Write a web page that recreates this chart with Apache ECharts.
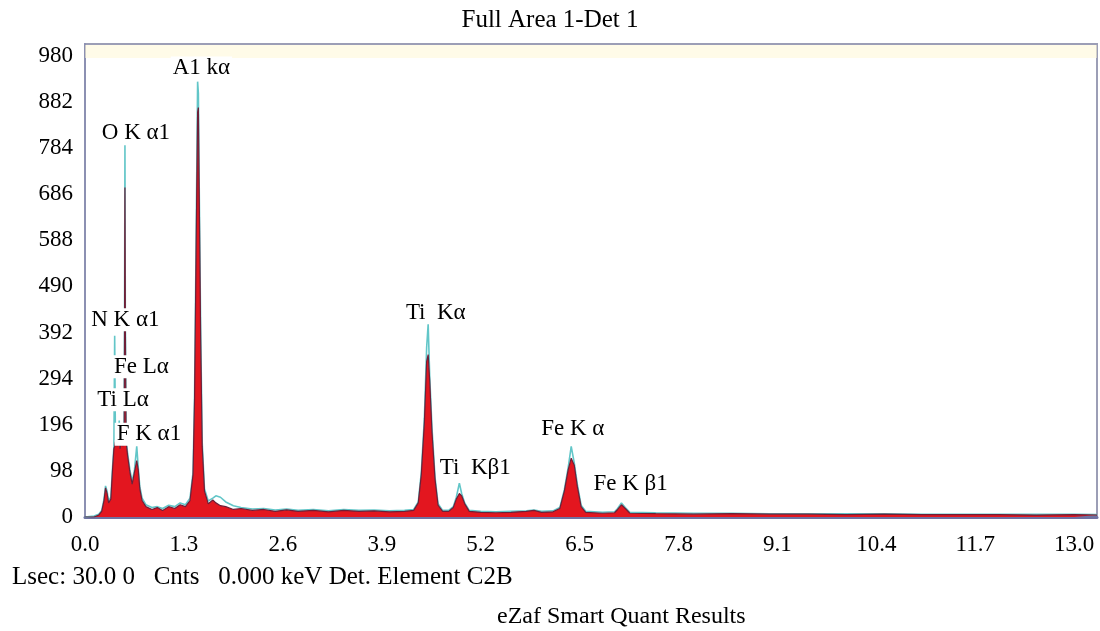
<!DOCTYPE html>
<html>
<head>
<meta charset="utf-8">
<title>Full Area 1-Det 1</title>
<script src="https://cdn.jsdelivr.net/npm/echarts@6/dist/echarts.min.js"></script>
<style>
  html, body { margin: 0; padding: 0; background: #fff; }
  #chart { width: 1100px; height: 631px; }
</style>
</head>
<body>
<div id="chart"></div>
<script>
// energy axis in keV, counts
var energy = [
  0.00, 0.12, 0.18, 0.22, 0.25, 0.27, 0.29, 0.31, 0.34, 0.36,
  0.38, 0.39, 0.40, 0.42, 0.44, 0.45, 0.46, 0.48, 0.50, 0.515,
  0.52, 0.525, 0.53, 0.54, 0.56, 0.59, 0.62, 0.65, 0.68, 0.70,
  0.72, 0.75, 0.80, 0.88, 0.95, 1.02, 1.10, 1.18, 1.25, 1.32,
  1.38, 1.42, 1.44, 1.46, 1.48, 1.49, 1.50, 1.52, 1.54, 1.57,
  1.62, 1.68, 1.72, 1.78, 1.85, 1.95, 2.05, 2.20, 2.35, 2.50,
  2.65, 2.80, 3.00, 3.20, 3.40, 3.60, 3.80, 4.00, 4.20, 4.32,
  4.38, 4.42, 4.46, 4.49, 4.51, 4.53, 4.56, 4.60, 4.64, 4.70,
  4.78, 4.84, 4.88, 4.92, 4.95, 4.99, 5.05, 5.20, 5.40, 5.60,
  5.80, 5.90, 6.00, 6.15, 6.24, 6.30, 6.35, 6.39, 6.43, 6.47,
  6.52, 6.58, 6.80, 6.96, 7.00, 7.05, 7.10, 7.16, 7.50, 8.00,
  8.50, 9.00, 9.50, 10.0, 10.5, 11.0, 11.5, 12.0, 12.5, 13.0,
  13.3
];
// red filled spectrum
var counts = [
  0, 0, 4, 12, 35, 62, 50, 30, 38, 95,
  145, 150, 160, 150, 165, 170, 145, 160, 150, 175,
  420, 700, 420, 160, 130, 95, 70, 95, 120, 100,
  60, 35, 22, 16, 20, 14, 22, 18, 26, 22,
  35, 90, 250, 560, 860, 870, 700, 380, 150, 55,
  28, 36, 30, 24, 22, 16, 18, 14, 16, 12,
  15, 12, 14, 11, 14, 12, 13, 11, 12, 14,
  30, 90, 200, 330, 345, 290, 180, 80, 25, 12,
  12, 20, 38, 50, 45, 28, 12, 10, 9, 10,
  12, 14, 10, 11, 18, 55, 100, 125, 110, 65,
  22, 10, 8, 9, 16, 26, 18, 8, 7, 6,
  7, 6, 6, 5, 6, 5, 5, 5, 4, 5,
  4
];
// cyan overlay trace
var overlay = [
  0, 2, 6, 14, 38, 66, 55, 34, 42, 100,
  150, 385, 165, 155, 170, 205, 150, 165, 155, 180,
  430, 790, 430, 165, 135, 100, 75, 100, 150, 105,
  65, 40, 26, 20, 22, 18, 25, 22, 30, 26,
  40, 95, 260, 580, 925, 900, 720, 400, 160, 60,
  34, 40, 45, 42, 32, 24, 20, 17, 18, 15,
  17, 14, 16, 13, 16, 14, 15, 13, 14, 16,
  32, 95, 210, 360, 410, 300, 190, 85, 28, 14,
  14, 22, 42, 72, 50, 30, 14, 12, 11, 12,
  13, 15, 12, 13, 20, 58, 105, 150, 115, 70,
  25, 12, 10, 11, 18, 30, 20, 10, 9, 8,
  8, 7, 7, 7, 7, 6, 6, 6, 6, 6,
  5
];
var yTicks = [0, 98, 196, 294, 392, 490, 588, 686, 784, 882, 980];
var xTicks = [0.0, 1.3, 2.6, 3.9, 5.2, 6.5, 7.8, 9.1, 10.4, 11.7, 13.0];

// peak labels: text, keV, counts (centre of the label)
var peakNames = ["A1 k\u03b1", "O K \u03b11", "N K \u03b11", "Fe L\u03b1", "Ti L\u03b1",
  "F K \u03b11", "Ti  K\u03b1", "Ti  K\u03b21", "Fe K \u03b1", "Fe K \u03b21"];
var peakX = [1.53, 0.67, 0.53, 0.74, 0.50, 0.84, 4.61, 5.13, 6.41, 7.17];
var peakY = [954, 816, 419, 319, 249, 176, 434, 104, 187, 70];

var serif = "Liberation Serif";

function zip(a, b) {
  var out = [], i;
  for (i = 0; i < a.length; i++) {
    out.push([a[i], b[i]]);
  }
  return out;
}

var labelData = (function() {
  var res = [], i;
  for (i = 0; i < peakNames.length; i++) {
    res.push([peakX[i], peakY[i], peakNames[i]]);
  }
  return res;
})();

var myChart = echarts.init(document.getElementById("chart"));

var options = {
  animation: false,
  backgroundColor: "#ffffff",
  title: {
    text: "Full Area 1-Det 1",
    left: "center",
    top: 3,
    textStyle: { fontFamily: serif, fontSize: 25, fontWeight: "normal", color: "#000" }
  },
  graphic: [
    {
      type: "text", left: 12, top: 565,
      style: { text: "Lsec: 30.0 0   Cnts   0.000 keV Det. Element C2B", fontFamily: serif, fontSize: 25, fill: "#000" }
    },
    {
      type: "text", left: 497, top: 605,
      style: { text: "eZaf Smart Quant Results", fontFamily: serif, fontSize: 24, fill: "#000" }
    }
  ],
  grid: {
    left: 85, right: 3, top: 44, bottom: 114,
    show: true,
    borderColor: "#9c9eb6",
    borderWidth: 2
  },
  xAxis: {
    type: "value",
    min: 0,
    max: 13.3,
    interval: 1.3,
    axisLine: { show: true, onZero: false, lineStyle: { color: "#6e72a2", width: 3 } },
    axisTick: { show: false },
    splitLine: { show: false },
    axisLabel: {
      showMaxLabel: false,
      margin: 16,
      fontFamily: serif,
      fontSize: 23,
      color: "#000",
      formatter: function(v) {
        return xTicks.indexOf(Math.round(v * 10) / 10) >= 0 ? v.toFixed(1) : "";
      }
    }
  },
  yAxis: {
    type: "value",
    min: 0,
    max: 1005,
    interval: 98,
    axisLine: { show: true, lineStyle: { color: "#8c90b2", width: 2 } },
    axisTick: { show: false },
    splitLine: { show: false },
    axisLabel: {
      showMaxLabel: false,
      margin: 12,
      fontFamily: serif,
      fontSize: 23,
      color: "#000",
      formatter: function(v) {
        return yTicks.indexOf(v) >= 0 ? String(v) : "";
      }
    }
  },
  series: [
    {
      name: "overlay",
      type: "line",
      data: zip(energy, overlay),
      showSymbol: false,
      symbol: "none",
      z: 2,
      lineStyle: { color: "#62c6c8", width: 1.6 },
      markArea: {
        silent: true,
        itemStyle: { color: "rgba(255,248,214,0.55)" },
        data: [[{ yAxis: 975 }, { yAxis: 1003 }]]
      }
    },
    {
      name: "spectrum",
      type: "line",
      data: zip(energy, counts),
      showSymbol: false,
      symbol: "none",
      z: 3,
      lineStyle: { color: "#6e1f38", width: 1.2 },
      areaStyle: { color: "#e3161f", opacity: 1 }
    },
    {
      name: "labels",
      type: "scatter",
      data: labelData,
      symbolSize: 1,
      itemStyle: { color: "#ffffff", opacity: 1 },
      z: 6,
      label: {
        show: true,
        position: "inside",
        formatter: function(p) { return p.data[2]; },
        fontFamily: serif,
        fontSize: 23,
        color: "#000",
        textBorderWidth: 0,
        backgroundColor: "#ffffff",
        padding: [0, 2]
      }
    }
  ]
};

myChart.setOption(options);
</script>
</body>
</html>
